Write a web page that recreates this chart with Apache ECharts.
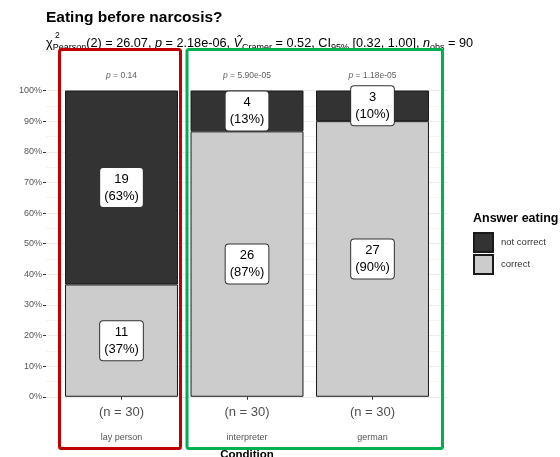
<!DOCTYPE html>
<html>
<head>
<meta charset="utf-8">
<script src="https://cdn.jsdelivr.net/npm/echarts@6/dist/echarts.min.js"></script>
<style>
    html, body { margin: 0; padding: 0; background: #fff; }
    #chart { width: 560px; height: 457px; }
</style>
</head>
<body>
<div id="chart"></div>
<script>
    // data
    var categories = ['lay person', 'interpreter', 'german'];
    var correctCounts = [11, 26, 27];
    var notCorrectCounts = [19, 4, 3];
    var totals = [30, 30, 30];
    var pValues = ['0.14', '5.90e-05', '1.18e-05'];

    var font = 'Liberation Sans, Arial, sans-serif';

    // percentages per category
    var correctPct = correctCounts.map(function (c, i) { return c / totals[i] * 100; });
    var notCorrectPct = notCorrectCounts.map(function (c, i) { return c / totals[i] * 100; });

    var boxLabel = function (counts, pct) {
        return {
            show: true,
            position: 'inside',
            formatter: function (p) {
                return counts[p.dataIndex] + '\n(' + Math.round(pct[p.dataIndex]) + '%)';
            },
            fontFamily: font,
            fontSize: 13,
            lineHeight: 17,
            color: '#000',
            backgroundColor: '#fff',
            borderColor: '#333',
            borderWidth: 1,
            borderRadius: 3,
            padding: [3, 4, 2, 4]
        };
    };

    var myChart = echarts.init(document.getElementById('chart'));
    myChart.setOption({
        animation: false,
        title: [
            {
                text: 'Eating before narcosis?',
                left: 46,
                top: 10,
                padding: 0,
                textStyle: { fontFamily: font, fontSize: 15.5, fontWeight: 'bold', color: '#000' },
                subtext: '{t|χ}{sub|Pearson}{t|(2) = 26.07, }{i|p}{t| = 2.18e-06, }{i|V\u0302}{sub|Cramer}{t| = 0.52, CI}{sub|95%}{t| [0.32, 1.00], }{i|n}{sub|obs}{t| = 90}',
                itemGap: 9,
                subtextStyle: {
                    rich: {
                        t: { fontFamily: font, fontSize: 12.7, color: '#000' },
                        i: { fontFamily: font, fontSize: 12.7, fontStyle: 'italic', color: '#000' },
                        sub: { fontFamily: font, fontSize: 9, color: '#000', padding: [8, 0, 0, 0] }
                    }
                }
            },
            {
                text: 'Answer eating',
                left: 473,
                top: 212,
                padding: 0,
                textStyle: { fontFamily: font, fontSize: 12.5, fontWeight: 'bold', color: '#000' }
            }
        ],
        legend: {
            data: ['not correct', 'correct'],
            orient: 'vertical',
            left: 473,
            top: 232,
            padding: 0,
            icon: 'rect',
            itemWidth: 19,
            itemHeight: 19,
            itemGap: 1,
            textStyle: { fontFamily: font, fontSize: 9.5, color: '#333', padding: [0, 0, 0, 3] }
        },
        grid: [
            // panel for y ticks and grid lines (0 - 100 %)
            { left: 46, right: 112, top: 90.5, bottom: 60.2, outerBoundsMode: 'none' },
            // panel for the bars, -10 % .. 110 %
            { left: 58.75, right: 124.75, top: 59.9, bottom: 29.6, outerBoundsMode: 'none' }
        ],
        xAxis: [
            { gridIndex: 0, type: 'value', show: false, min: 0, max: 1 },
            {
                gridIndex: 1,
                type: 'category',
                data: categories,
                name: 'Condition',
                nameLocation: 'middle',
                nameGap: 21,
                nameTextStyle: { fontFamily: font, fontSize: 11.5, fontWeight: 'bold', color: '#000' },
                axisLine: { show: false },
                axisTick: { show: true, alignWithLabel: true, length: 3, lineStyle: { color: '#333' } },
                axisLabel: { fontFamily: font, fontSize: 9, color: '#555', margin: 6 }
            }
        ],
        yAxis: [
            {
                gridIndex: 0,
                type: 'value',
                min: 0,
                max: 100,
                interval: 10,
                axisLine: { show: false },
                axisTick: { show: true, length: 3, lineStyle: { color: '#333' } },
                axisLabel: {
                    fontFamily: font, fontSize: 9, color: '#555', margin: 4,
                    formatter: function (v) { return v + '%'; }
                },
                splitLine: { lineStyle: { color: '#ebebeb', width: 1 } },
                minorTick: { show: false, splitNumber: 2 },
                minorSplitLine: { show: true, lineStyle: { color: '#f4f4f4', width: 1 } }
            },
            { gridIndex: 1, type: 'value', min: -10, max: 110, show: false }
        ],
        series: [
            {
                name: 'correct',
                type: 'bar',
                xAxisIndex: 1,
                yAxisIndex: 1,
                stack: 'answer',
                barWidth: '90%',
                data: correctPct,
                itemStyle: { color: '#cccccc', borderColor: '#1a1a1a', borderWidth: 1 },
                label: boxLabel(correctCounts, correctPct)
            },
            {
                name: 'not correct',
                type: 'bar',
                xAxisIndex: 1,
                yAxisIndex: 1,
                stack: 'answer',
                barWidth: '90%',
                data: notCorrectPct,
                itemStyle: { color: '#333333', borderColor: '#1a1a1a', borderWidth: 1 },
                label: boxLabel(notCorrectCounts, notCorrectPct)
            },
            {
                // p-values above bars
                type: 'scatter',
                xAxisIndex: 1,
                yAxisIndex: 1,
                symbolSize: 1,
                itemStyle: { color: 'transparent' },
                data: categories.map(function (c, i) { return [i, 105]; }),
                label: {
                    show: true,
                    position: 'inside',
                    formatter: function (p) { return '{i|p} = ' + pValues[p.dataIndex]; },
                    fontFamily: font, fontSize: 8.5, color: '#333',
                    rich: { i: { fontFamily: font, fontSize: 8.5, fontStyle: 'italic', color: '#333' } }
                }
            },
            {
                // sample sizes below bars
                type: 'scatter',
                xAxisIndex: 1,
                yAxisIndex: 1,
                symbolSize: 1,
                itemStyle: { color: 'transparent' },
                data: categories.map(function (c, i) { return [i, -5]; }),
                label: {
                    show: true,
                    position: 'inside',
                    formatter: function (p) { return '(n = ' + totals[p.dataIndex] + ')'; },
                    fontFamily: font, fontSize: 13, color: '#222'
                }
            }
        ],
        graphic: [
            {
                type: 'text', left: 55, top: 31, z: 10,
                style: { text: '2', fontFamily: font, fontSize: 8.5, fill: '#000' }
            },
            {
                type: 'rect', z: 100,
                shape: { x: 59.5, y: 49.5, width: 121, height: 399, r: 2 },
                style: { fill: 'none', stroke: '#c00000', lineWidth: 3 }
            },
            {
                type: 'rect', z: 100,
                shape: { x: 187, y: 49.5, width: 255.5, height: 399, r: 2 },
                style: { fill: 'none', stroke: '#00b050', lineWidth: 3 }
            }
        ]
    });
</script>
</body>
</html>
